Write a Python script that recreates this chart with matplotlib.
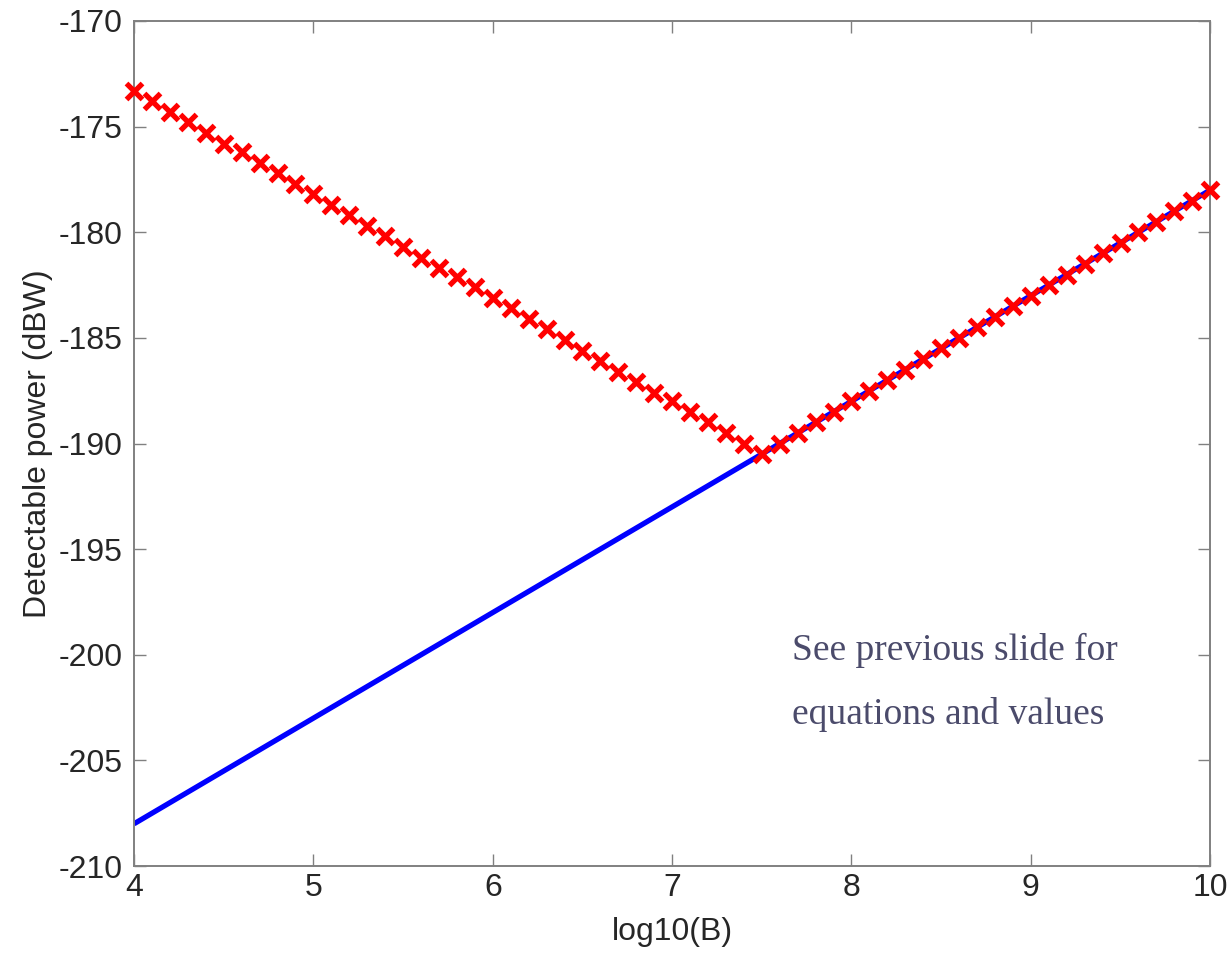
import matplotlib
matplotlib.use('Agg')
from matplotlib import pyplot as plt

# log10 of bandwidth
log_b = [4.0, 4.1, 4.2, 4.3, 4.4, 4.5, 4.6, 4.7, 4.8, 4.9,
         5.0, 5.1, 5.2, 5.3, 5.4, 5.5, 5.6, 5.7, 5.8, 5.9,
         6.0, 6.1, 6.2, 6.3, 6.4, 6.5, 6.6, 6.7, 6.8, 6.9,
         7.0, 7.1, 7.2, 7.3, 7.4, 7.5, 7.6, 7.7, 7.8, 7.9,
         8.0, 8.1, 8.2, 8.3, 8.4, 8.5, 8.6, 8.7, 8.8, 8.9,
         9.0, 9.1, 9.2, 9.3, 9.4, 9.5, 9.6, 9.7, 9.8, 9.9, 10.0]

# blue curve: noise limited term (dBW)
noise_term = [-208.0, -207.5, -207.0, -206.5, -206.0, -205.5, -205.0, -204.5, -204.0, -203.5,
              -203.0, -202.5, -202.0, -201.5, -201.0, -200.5, -200.0, -199.5, -199.0, -198.5,
              -198.0, -197.5, -197.0, -196.5, -196.0, -195.5, -195.0, -194.5, -194.0, -193.5,
              -193.0, -192.5, -192.0, -191.5, -191.0, -190.5, -190.0, -189.5, -189.0, -188.5,
              -188.0, -187.5, -187.0, -186.5, -186.0, -185.5, -185.0, -184.5, -184.0, -183.5,
              -183.0, -182.5, -182.0, -181.5, -181.0, -180.5, -180.0, -179.5, -179.0, -178.5, -178.0]

# red markers: detectable power (dBW)
detectable = [-173.3, -173.8, -174.3, -174.8, -175.3, -175.8, -176.2, -176.7, -177.2, -177.7,
              -178.2, -178.7, -179.2, -179.7, -180.2, -180.7, -181.2, -181.7, -182.1, -182.6,
              -183.1, -183.6, -184.1, -184.6, -185.1, -185.6, -186.1, -186.6, -187.1, -187.6,
              -188.0, -188.5, -189.0, -189.5, -190.0, -190.5, -190.0, -189.5, -189.0, -188.5,
              -188.0, -187.5, -187.0, -186.5, -186.0, -185.5, -185.0, -184.5, -184.0, -183.5,
              -183.0, -182.5, -182.0, -181.5, -181.0, -180.5, -180.0, -179.5, -179.0, -178.5, -178.0]

plt.rcParams['font.family'] = ['Liberation Sans', 'DejaVu Sans']
plt.rcParams['axes.unicode_minus'] = False

fig = plt.figure(figsize=(12.31, 9.63), dpi=100)
ax = fig.add_axes([0.1089, 0.1007, 0.8742, 0.8775])

ax.plot(log_b, noise_term, color='#0000ff', lw=3.8, solid_capstyle='butt', zorder=2)
ax.plot(log_b, detectable, ls='none', marker='x', color='#ff0000',
        ms=11.5, mew=3.8, zorder=3, clip_on=False)

ax.set_xlim(4, 10)
ax.set_ylim(-210, -170)
ax.set_xticks(range(4, 11))
ax.set_yticks(range(-210, -169, 5))

for s in ax.spines.values():
    s.set_color('#808080')
    s.set_linewidth(1.4)
ax.tick_params(axis='both', direction='in', length=8.5, width=1, color='#808080',
               labelsize=23, labelcolor='#262626', top=True, right=True)
ax.tick_params(axis='y', pad=8)
ax.tick_params(axis='x', pad=5)

ax.set_xlabel('log10(B)', fontsize=23, color='#262626', labelpad=10)
ax.set_ylabel('Detectable power (dBW)', fontsize=23, color='#262626', labelpad=4)

ax.text(0.6115, 0.244, 'See previous slide for', transform=ax.transAxes,
        fontsize=27, color='#4b4b6b', family='Liberation Serif')
ax.text(0.6115, 0.168, 'equations and values', transform=ax.transAxes,
        fontsize=27, color='#4b4b6b', family='Liberation Serif')

fig.savefig('out.png', dpi=100)
